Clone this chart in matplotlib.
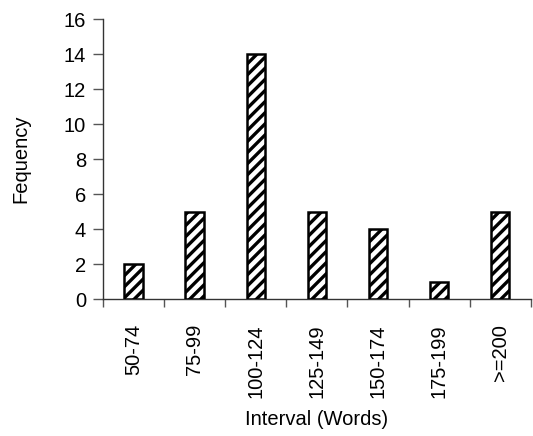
import matplotlib
matplotlib.use("Agg")
import matplotlib.pyplot as plt

plt.rcParams['font.family'] = ['Liberation Sans', 'DejaVu Sans']
plt.rcParams['hatch.linewidth'] = 2.4

# 区间与频数
intervals = ["50-74", "75-99", "100-124", "125-149", "150-174", "175-199", ">=200"]
counts = [2, 5, 14, 5, 4, 1, 5]
y_ticks = [0, 2, 4, 6, 8, 10, 12, 14, 16]

FS = 14.5


def main():
    fig = plt.figure(figsize=(5.33, 4.36), dpi=100)
    ax = fig.add_axes([0.193, 0.314, 0.803, 0.642])

    pos = list(range(len(intervals)))
    ax.bar(pos, counts, width=0.3, color='white', edgecolor='black',
           linewidth=1.8, hatch='///', zorder=3)

    ax.set_xlim(-0.5, len(intervals) - 0.5)
    ax.set_ylim(0, 16)
    ax.set_yticks(y_ticks)
    ax.set_yticklabels([str(v) for v in y_ticks], fontsize=FS)

    # 刻度线在类别之间，标签在类别中间
    ax.set_xticks([p - 0.5 for p in pos] + [len(pos) - 0.5])
    ax.set_xticklabels([])
    ax.set_xticks(pos, minor=True)
    ax.set_xticklabels(intervals, minor=True, rotation=90, fontsize=FS)
    ax.tick_params(axis='x', which='minor', length=0, pad=18)
    ax.tick_params(axis='x', which='major', length=6, width=1, color='#555555', direction='out')
    ax.tick_params(axis='y', length=7, width=1, color='#555555', direction='out', pad=5)

    for side in ('top', 'right'):
        ax.spines[side].set_visible(False)
    for side in ('left', 'bottom'):
        ax.spines[side].set_color('#333333')
        ax.spines[side].set_linewidth(1)

    ax.set_ylabel("Fequency", fontsize=FS, labelpad=24)
    ax.set_xlabel("Interval (Words)", fontsize=FS, labelpad=9)

    fig.savefig("out.png", dpi=100)
    plt.close(fig)


if __name__ == "__main__":
    main()
